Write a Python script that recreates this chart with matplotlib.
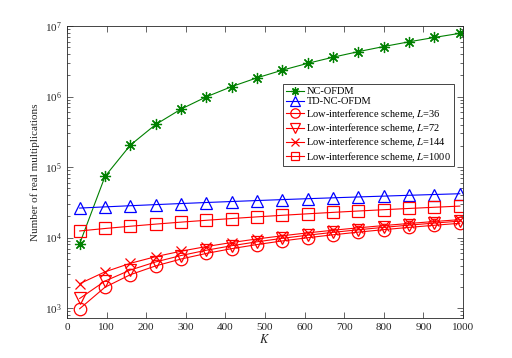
import matplotlib.pyplot as plt
import numpy as np

# Данные: число поднесущих K и число вещественных умножений
K = [32, 96, 160, 224, 288, 352, 416, 480, 544, 608, 672, 736, 800, 864, 928, 992]
nc_ofdm = [8192, 73728, 204800, 401408, 663552, 991232, 1384448, 1843200,
           2367488, 2957312, 3612672, 4333568, 5120000, 5971968, 6889472, 7872512]
td_nc_ofdm = [26220, 27260, 28310, 29350, 30390, 31440, 32480, 33520,
              34570, 35610, 36650, 37700, 38740, 39780, 40830, 41870]
low_36 = [980, 1980, 2980, 3970, 4970, 5970, 6970, 7970,
          8970, 9960, 10960, 11960, 12960, 13960, 14960, 15960]
low_72 = [1370, 2420, 3470, 4520, 5570, 6620, 7670, 8720,
          9770, 10820, 11870, 12920, 13970, 15020, 16070, 17120]
low_144 = [2220, 3270, 4320, 5370, 6420, 7470, 8520, 9570,
           10620, 11670, 12720, 13770, 14820, 15870, 16920, 17970]
low_1000 = [12420, 13460, 14490, 15530, 16570, 17600, 18640, 19680,
            20710, 21750, 22790, 23820, 24860, 25900, 26930, 27970]

plt.rcParams['font.family'] = ['Liberation Serif', 'DejaVu Serif']
plt.rcParams['mathtext.fontset'] = 'stix'

fig = plt.figure(figsize=(5.12, 3.58), dpi=100)
ax = fig.add_axes([67/512, 1 - 318/358, 396/512, 292/358])

green = '#008000'
lw = 0.8
ax.plot(K, nc_ofdm, '-', color=green, marker=(8, 2, 0), ms=8, mew=0.9, lw=lw, label='NC-OFDM')
ax.plot(K, td_nc_ofdm, '-', color='blue', marker='^', ms=9, mfc='none', mew=0.9, lw=lw, label='TD-NC-OFDM')
ax.plot(K, low_36, '-', color='red', marker='o', ms=9, mfc='none', mew=0.9, lw=lw,
        label='Low-interference scheme, $\\mathit{L}$=36')
ax.plot(K, low_72, '-', color='red', marker='v', ms=9, mfc='none', mew=0.9, lw=lw,
        label='Low-interference scheme, $\\mathit{L}$=72')
ax.plot(K, low_144, '-', color='red', marker='x', ms=7, mew=0.9, lw=lw,
        label='Low-interference scheme, $\\mathit{L}$=144')
ax.plot(K, low_1000, '-', color='red', marker='s', ms=8, mfc='none', mew=0.9, lw=lw,
        label='Low-interference scheme, $\\mathit{L}$=1000')

ax.set_yscale('log')
ax.set_xlim(0, 1000)
ax.set_ylim(10**2.86, 1e7)
ax.set_xticks(np.arange(0, 1001, 100))

gray = '#262626'
for s in ax.spines.values():
    s.set_color(gray)
    s.set_linewidth(0.6)
ax.tick_params(which='both', direction='in', top=True, right=True, colors=gray,
               labelsize=8, width=0.5)
ax.tick_params(which='major', length=4)
ax.tick_params(which='minor', length=2)

ax.set_xlabel('$\\mathit{K}$', fontsize=9, color=gray, labelpad=1)
ax.set_ylabel('Number of real multiplications', fontsize=8, color=gray, labelpad=4)

leg = ax.legend(loc='upper right', bbox_to_anchor=(0.977, 0.80), fontsize=7.5,
                fancybox=False, edgecolor=gray, framealpha=1, handlelength=1.8,
                markerscale=0.75, borderpad=0.25, labelspacing=0.08,
                handletextpad=0.2, borderaxespad=0)
leg.get_frame().set_linewidth(0.6)

fig.savefig('out.png', dpi=100)
